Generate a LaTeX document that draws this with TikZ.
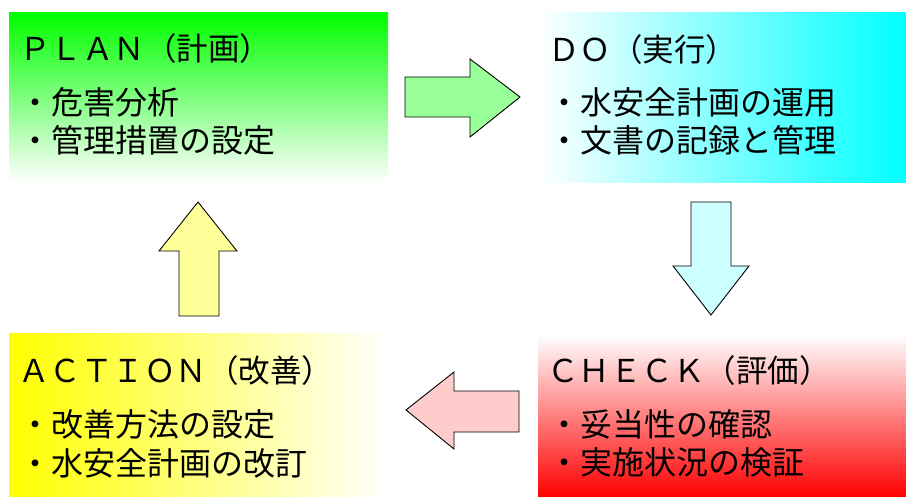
\documentclass[tikz,border=0pt]{standalone}
\usepackage{fontspec}
\setmainfont{Noto Sans CJK JP}
\begin{document}
\begin{tikzpicture}[x=1pt,y=1pt,
  box/.style={anchor=north west, inner sep=0pt, outer sep=0pt},
  title/.style={anchor=base west, inner sep=0pt, font=\fontsize{31.5}{36}\selectfont},
  item/.style={anchor=base west, inner sep=0pt, font=\fontsize{32}{36}\selectfont},
  blockarrow/.style={draw=black, line width=0.9pt, line join=miter}]
\definecolor{pgreen}{HTML}{00FF00}
\definecolor{pcyan}{HTML}{00FFFF}
\definecolor{pred}{HTML}{FF0000}
\definecolor{pyellow}{HTML}{FFFF00}
\definecolor{agreen}{HTML}{99FF99}
\definecolor{acyan}{HTML}{CCFFFF}
\definecolor{apink}{HTML}{FFCCCC}
\definecolor{ayellow}{HTML}{FFFF99}
\useasboundingbox (0,0) rectangle (906,-497);
% boxes
\node[box, minimum width=379pt, minimum height=169pt, top color=pgreen, bottom color=white] (plan) at (9,-13) {};
\node[box, minimum width=368pt, minimum height=170pt, left color=white, right color=pcyan] (do) at (538,-13) {};
\node[box, minimum width=368pt, minimum height=162pt, top color=white, bottom color=pred] (check) at (538,-335) {};
\node[box, minimum width=379pt, minimum height=163pt, left color=pyellow, right color=white] (act) at (9,-334) {};
% texts
\node[title] (plant) at (19,-61) {ＰＬＡＮ（計画）};
\node[item] (plan1) at (19,-115) {・危害分析};
\node[item] (plan2) at (19,-153) {・管理措置の設定};
\node[title] (dot) at (548,-62) {ＤＯ（実行）};
\node[item] (do1) at (548,-115) {・水安全計画の運用};
\node[item] (do2) at (548,-153) {・文書の記録と管理};
\node[title] (checkt) at (547,-383) {ＣＨＥＣＫ（評価）};
\node[item] (check1) at (548,-436) {・妥当性の確認};
\node[item] (check2) at (548,-474) {・実施状況の検証};
\node[title] (actt) at (18,-383) {ＡＣＴＩＯＮ（改善）};
\node[item] (act1) at (19,-436) {・改善方法の設定};
\node[item] (act2) at (19,-475) {・水安全計画の改訂};
% block arrows
\draw[blockarrow, fill=agreen] (405,-77) -- (470,-77) -- (470,-59) -- (520,-97) -- (470,-137) -- (470,-117) -- (405,-117) -- cycle;
\draw[blockarrow, fill=acyan] (691,-202) -- (731,-202) -- (731,-266) -- (749,-266) -- (711,-315) -- (673,-266) -- (691,-266) -- cycle;
\draw[blockarrow, fill=apink] (519,-391) -- (454,-391) -- (454,-372) -- (406,-410) -- (454,-449) -- (454,-432) -- (519,-432) -- cycle;
\draw[blockarrow, fill=ayellow] (179,-316) -- (179,-251) -- (159,-251) -- (198,-202) -- (237,-251) -- (219,-251) -- (219,-316) -- cycle;
\end{tikzpicture}
\end{document}
